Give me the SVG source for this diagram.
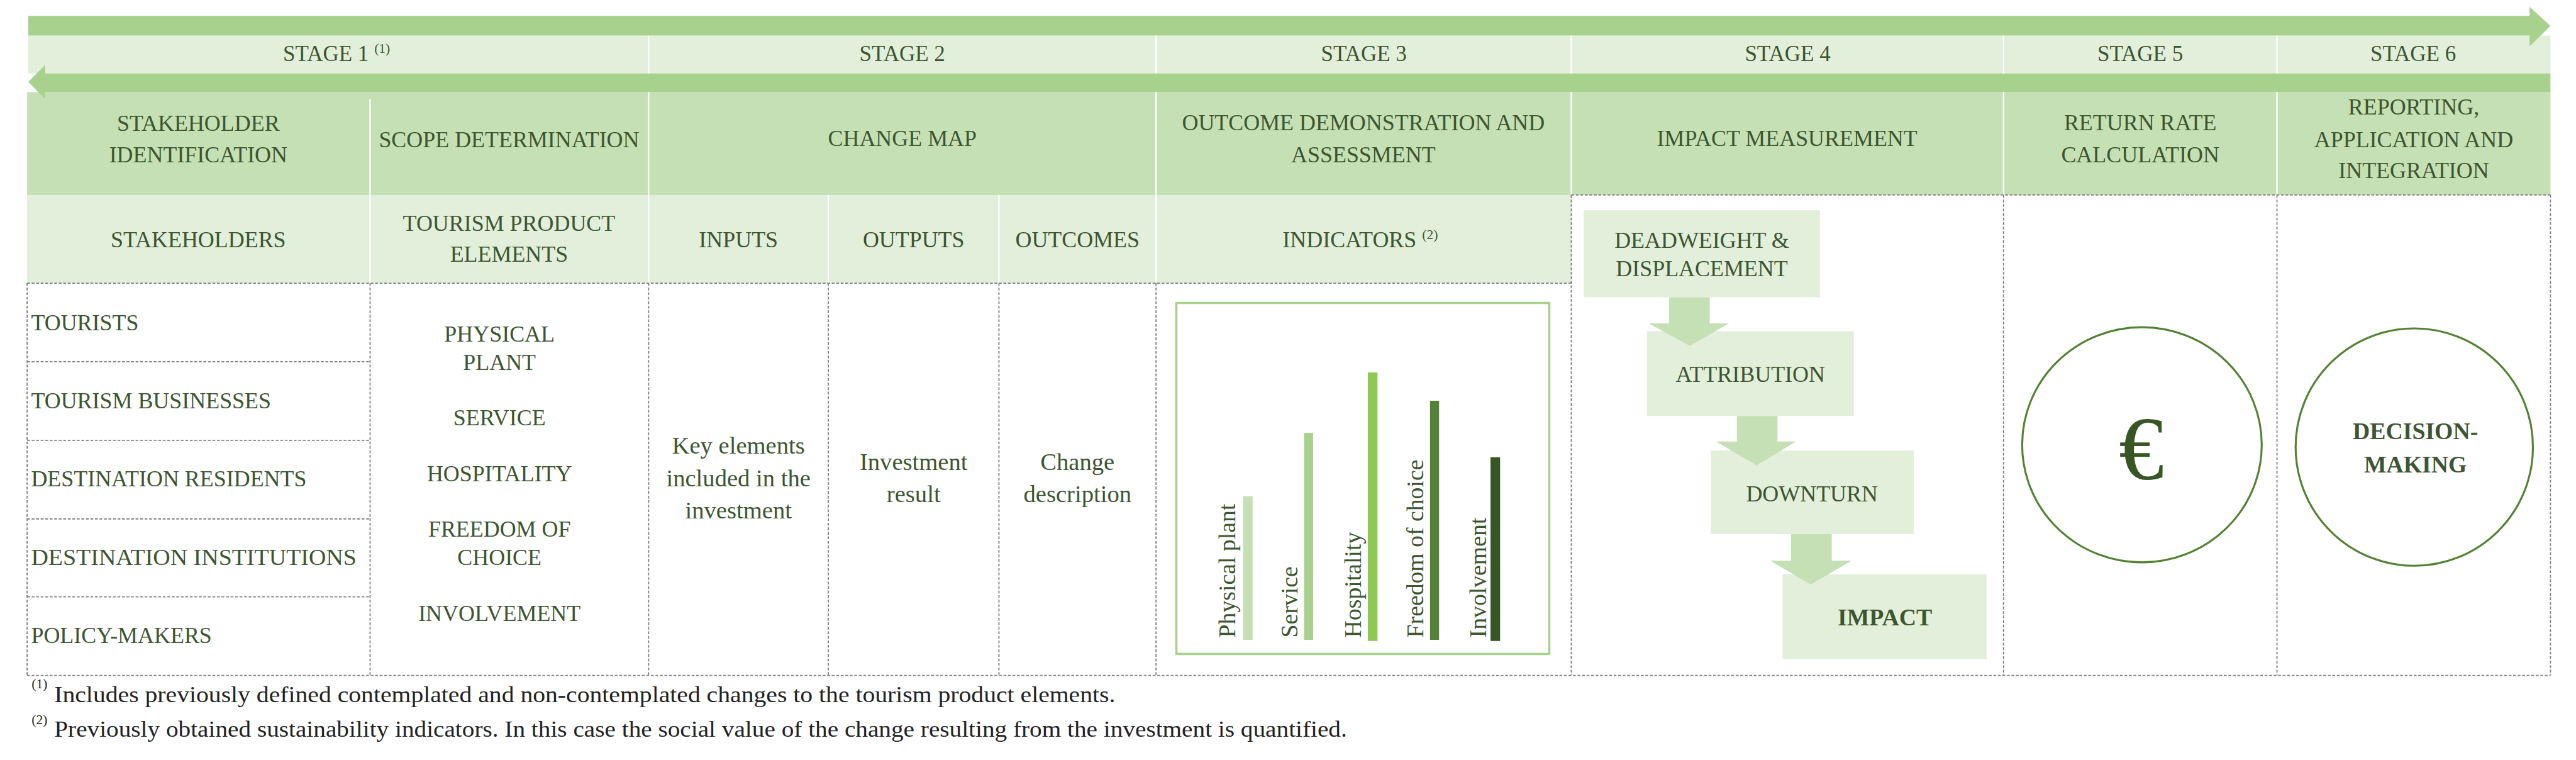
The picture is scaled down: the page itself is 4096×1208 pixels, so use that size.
<svg xmlns="http://www.w3.org/2000/svg" width="4096" height="1208" viewBox="0 0 4096 1208">
<style>
.t{font-family:"Liberation Serif","Times New Roman",serif;fill:#3d5530;}
.c{text-anchor:middle;}
.s40{font-size:40px;}
.s43{font-size:43px;}
.b{font-weight:bold;}
.sup{font-size:24px;}
.bar{fill:#a9d18e;}
.wl{stroke:#ffffff;stroke-width:2.5;}
.dash{fill:none;stroke:#7f7f7f;stroke-width:2;stroke-dasharray:5 3;}
.fbox{fill:#e2efda;}
.farr{fill:#c5e0b4;}
.ring{fill:none;stroke:#548235;stroke-width:3.5;}
</style>
<rect width="4096" height="1208" fill="#ffffff"/>
<g transform="scale(0.8984)">
  <!-- backgrounds -->
  <g id="bands">
    <rect x="50" y="63" width="4464" height="67" fill="#e2efda"/>
    <rect x="48" y="163" width="4466" height="182" fill="#c5e0b4"/>
    <rect x="48" y="345" width="2733" height="156" fill="#e2efda"/>
    <polygon class="bar" points="50,28 4477,28 4477,12 4514,46 4477,82 4477,63 50,63"/>
    <polygon class="bar" points="4514,130 80,130 80,115 50,145 80,175 80,163 4514,163"/>
    <g>
      <line class="wl" x1="1148" y1="63" x2="1148" y2="130"/>
      <line class="wl" x1="2046" y1="63" x2="2046" y2="130"/>
      <line class="wl" x1="2781" y1="63" x2="2781" y2="130"/>
      <line class="wl" x1="3546" y1="63" x2="3546" y2="130"/>
      <line class="wl" x1="4030" y1="63" x2="4030" y2="130"/>
      <line class="wl" x1="655" y1="175" x2="655" y2="345"/>
      <line class="wl" x1="1148" y1="163" x2="1148" y2="345"/>
      <line class="wl" x1="2046" y1="163" x2="2046" y2="345"/>
      <line class="wl" x1="2781" y1="163" x2="2781" y2="345"/>
      <line class="wl" x1="3546" y1="163" x2="3546" y2="345"/>
      <line class="wl" x1="4030" y1="163" x2="4030" y2="345"/>
      <line class="wl" x1="655" y1="345" x2="655" y2="501"/>
      <line class="wl" x1="1148" y1="345" x2="1148" y2="501"/>
      <line class="wl" x1="1466" y1="345" x2="1466" y2="501"/>
      <line class="wl" x1="1768" y1="345" x2="1768" y2="501"/>
      <line class="wl" x1="2046" y1="345" x2="2046" y2="501"/>
    </g>
  </g>
  <!-- dashed table grid -->
  <g id="grid">
    <line class="dash" x1="48" y1="501" x2="2781" y2="501"/>
    <line class="dash" x1="2781" y1="345" x2="4514" y2="345"/>
    <line class="dash" x1="48" y1="1195" x2="4514" y2="1195"/>
    <line class="dash" x1="48" y1="640" x2="655" y2="640"/>
    <line class="dash" x1="48" y1="779" x2="655" y2="779"/>
    <line class="dash" x1="48" y1="918" x2="655" y2="918"/>
    <line class="dash" x1="48" y1="1056" x2="655" y2="1056"/>
    <line class="dash" x1="48" y1="501" x2="48" y2="1195"/>
    <line class="dash" x1="655" y1="501" x2="655" y2="1195"/>
    <line class="dash" x1="1148" y1="501" x2="1148" y2="1195"/>
    <line class="dash" x1="1466" y1="501" x2="1466" y2="1195"/>
    <line class="dash" x1="1768" y1="501" x2="1768" y2="1195"/>
    <line class="dash" x1="2046" y1="501" x2="2046" y2="1195"/>
    <line class="dash" x1="2781" y1="345" x2="2781" y2="1195"/>
    <line class="dash" x1="3546" y1="345" x2="3546" y2="1195"/>
    <line class="dash" x1="4030" y1="345" x2="4030" y2="1195"/>
    <line class="dash" x1="4514" y1="345" x2="4514" y2="1195"/>
  </g>
  <!-- stage labels -->
  <g id="stages" class="t" font-size="39">
    <text x="501" y="108">STAGE 1 <tspan class="sup" dy="-14">(1)</tspan></text>
    <text class="c" x="1597" y="108">STAGE 2</text>
    <text class="c" x="2414" y="108">STAGE 3</text>
    <text class="c" x="3164" y="108">STAGE 4</text>
    <text class="c" x="3788" y="108">STAGE 5</text>
    <text class="c" x="4271" y="108">STAGE 6</text>
  </g>
  <!-- header row -->
  <g id="headers" class="t c s40">
    <text x="351" y="232">STAKEHOLDER</text>
    <text x="351" y="287">IDENTIFICATION</text>
    <text x="901" y="260">SCOPE DETERMINATION</text>
    <text x="1597" y="258">CHANGE MAP</text>
    <text x="2413" y="230">OUTCOME DEMONSTRATION AND</text>
    <text x="2413" y="287">ASSESSMENT</text>
    <text x="3163" y="258">IMPACT MEASUREMENT</text>
    <text x="3788" y="230">RETURN RATE</text>
    <text x="3788" y="287">CALCULATION</text>
    <text x="4272" y="203">REPORTING,</text>
    <text x="4272" y="260">APPLICATION AND</text>
    <text x="4272" y="315">INTEGRATION</text>
  </g>
  <!-- sub-header row -->
  <g id="subheaders" class="t c s40">
    <text x="351" y="437">STAKEHOLDERS</text>
    <text x="901" y="409">TOURISM PRODUCT</text>
    <text x="901" y="463">ELEMENTS</text>
    <text x="1307" y="437">INPUTS</text>
    <text x="1617" y="437">OUTPUTS</text>
    <text x="1907" y="437">OUTCOMES</text>
    <text x="2270" y="437" style="text-anchor:start">INDICATORS <tspan class="sup" dy="-14">(2)</tspan></text>
  </g>
  <!-- stakeholders -->
  <g id="stakeholders" class="t s40">
    <text x="55" y="584">TOURISTS</text>
    <text x="55" y="722">TOURISM BUSINESSES</text>
    <text x="55" y="860">DESTINATION RESIDENTS</text>
    <text x="55" y="999" textLength="576" lengthAdjust="spacingAndGlyphs">DESTINATION INSTITUTIONS</text>
    <text x="55" y="1138">POLICY-MAKERS</text>
  </g>
  <!-- tourism product elements -->
  <g id="elements" class="t c s40">
    <text x="884" y="604">PHYSICAL</text>
    <text x="884" y="655">PLANT</text>
    <text x="884" y="753">SERVICE</text>
    <text x="884" y="851">HOSPITALITY</text>
    <text x="884" y="950">FREEDOM OF</text>
    <text x="884" y="1000">CHOICE</text>
    <text x="884" y="1099">INVOLVEMENT</text>
  </g>
  <!-- change map -->
  <g id="inputs" class="t c s43">
    <text x="1307" y="803">Key elements</text>
    <text x="1307" y="860">included in the</text>
    <text x="1307" y="917">investment</text>
  </g>
  <g id="outputs" class="t c s43">
    <text x="1617" y="832">Investment</text>
    <text x="1617" y="888">result</text>
  </g>
  <g id="outcomes" class="t c s43">
    <text x="1907" y="832">Change</text>
    <text x="1907" y="888">description</text>
  </g>
  <!-- indicators chart -->
  <g id="indicators">
    <rect x="2082" y="536" width="660" height="621" fill="none" stroke="#a9d18e" stroke-width="4"/>
    <rect x="2200" y="878" width="17" height="254" fill="#c5e0b4"/>
    <rect x="2308" y="766" width="16" height="366" fill="#a9d18e"/>
    <rect x="2421" y="659" width="17" height="475" fill="#8fc852"/>
    <rect x="2531" y="709" width="16" height="423" fill="#548235"/>
    <rect x="2638" y="809" width="17" height="325" fill="#375623"/>
    <g class="t" font-size="42">
      <text transform="translate(2186,1128) rotate(-90)">Physical plant</text>
      <text transform="translate(2296,1128) rotate(-90)">Service</text>
      <text transform="translate(2409,1128) rotate(-90)">Hospitality</text>
      <text transform="translate(2519,1128) rotate(-90)">Freedom of choice</text>
      <text transform="translate(2630,1128) rotate(-90)">Involvement</text>
    </g>
  </g>
  <!-- impact measurement flow -->
  <g id="deadweight">
    <rect class="fbox" x="2803" y="372" width="418" height="154"/>
    <text class="t c s40" x="3012" y="439">DEADWEIGHT &amp;</text>
    <text class="t c s40" x="3012" y="489">DISPLACEMENT</text>
  </g>
  <g id="attribution">
    <rect class="fbox" x="2915" y="586" width="366" height="150"/>
    <text class="t c s40" x="3098" y="676">ATTRIBUTION</text>
  </g>
  <g id="downturn">
    <rect class="fbox" x="3028" y="797" width="359" height="148"/>
    <text class="t c s40" x="3207" y="887">DOWNTURN</text>
  </g>
  <g id="impact">
    <rect class="fbox" x="3155" y="1016" width="361" height="150"/>
    <text class="t c b" font-size="42" x="3336" y="1106">IMPACT</text>
  </g>
  <g id="connectors">
    <polygon class="farr" points="2954,526 3026,526 3026,572 3060,572 2991,612 2918,572 2954,572"/>
    <polygon class="farr" points="3074,736 3146,736 3146,781 3179,781 3109,823 3037,781 3074,781"/>
    <polygon class="farr" points="3170,945 3242,945 3242,992 3277,992 3205,1034 3133,992 3170,992"/>
  </g>
  <!-- return rate -->
  <g id="return-rate">
    <ellipse class="ring" cx="3791" cy="787" rx="212" ry="208"/>
    <text class="t c" font-size="160" x="3790" y="848" style="fill:#375623">€</text>
  </g>
  <!-- decision making -->
  <g id="decision-making">
    <ellipse class="ring" cx="4273" cy="791" rx="210" ry="210"/>
    <text class="t c b" font-size="42" x="4275" y="777">DECISION-</text>
    <text class="t c b" font-size="42" x="4275" y="836">MAKING</text>
  </g>
  <!-- footnotes -->
  <g id="footnotes" class="t" style="fill:#222222">
    <text class="sup" x="56" y="1218">(1)</text>
    <text x="96" y="1242" font-size="40" textLength="1878" lengthAdjust="spacingAndGlyphs">Includes previously defined contemplated and non-contemplated changes to the tourism product elements.</text>
    <text class="sup" x="56" y="1281">(2)</text>
    <text x="96" y="1303" font-size="40" textLength="2288" lengthAdjust="spacingAndGlyphs">Previously obtained sustainability indicators. In this case the social value of the change resulting from the investment is quantified.</text>
  </g>
</g>
</svg>
